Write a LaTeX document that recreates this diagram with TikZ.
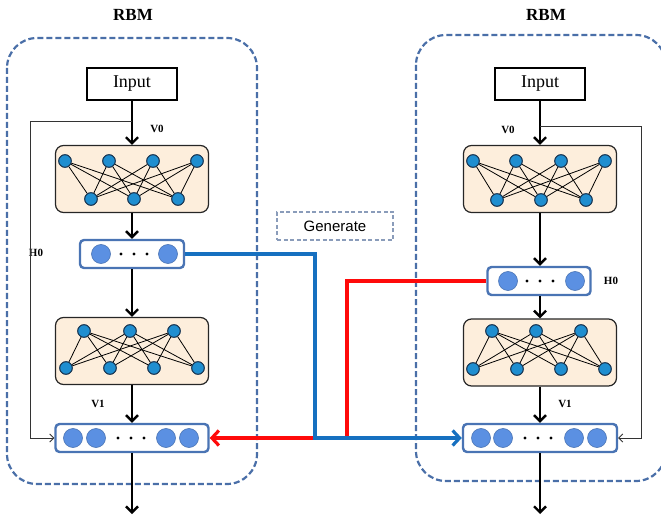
\documentclass[tikz,border=0pt]{standalone}
\usepackage{fontspec}
\setmainfont{Liberation Serif}
\newfontfamily\gensans{Liberation Sans}
\usetikzlibrary{arrows.meta}
\definecolor{panelc}{HTML}{4A6FA8}
\definecolor{layerb}{HTML}{4A74B4}
\definecolor{layerf}{HTML}{5B90E2}
\definecolor{orf}{HTML}{FDEEDC}
\definecolor{neuf}{HTML}{1F8ED0}
\definecolor{neub}{HTML}{1B3550}
\definecolor{genb}{HTML}{8A9CBA}
\definecolor{bluec}{HTML}{1670C0}
\definecolor{redc}{HTML}{FF0A0A}
\tikzset{
  panel/.style={draw=panelc, line width=2.2pt, dash pattern=on 6pt off 3pt, rounded corners=30pt},
  inbox/.style={draw=black, line width=2.4pt, fill=white, minimum width=90pt, minimum height=32pt, inner sep=0pt, font=\fontsize{18}{20}\selectfont},
  orbox/.style={draw=black!85, line width=1.2pt, fill=orf, rounded corners=8pt, minimum width=153pt, minimum height=67pt, inner sep=0pt},
  neu/.style={circle, draw=neub, line width=0.9pt, fill=neuf, minimum size=12.5pt, inner sep=0pt},
  lay/.style={draw=layerb, line width=2.4pt, fill=white, rounded corners=4pt, minimum height=28pt, inner sep=0pt},
  lc/.style={circle, draw=layerb, line width=0.6pt, fill=layerf, minimum size=19pt, inner sep=0pt},
  dot/.style={circle, fill=black, minimum size=3.4pt, inner sep=0pt},
  lbl/.style={font=\fontsize{11}{12}\selectfont\bfseries},
  ttl/.style={font=\fontsize{17}{19}\selectfont\bfseries},
  flow/.style={line width=2.5pt, -{Straight Barb[length=6pt,width=12pt,line width=2.4pt]}},
  thin/.style={line width=1pt, draw=black!80, -{Straight Barb[length=4pt,width=8pt,line width=0.9pt]}},
  big/.style={line width=3.5pt, -{Straight Barb[length=7pt,width=15pt,line width=3.2pt]}},
  wire/.style={line width=0.8pt, black}
}
\begin{document}
\begin{tikzpicture}[x=1pt,y=-1pt]
\useasboundingbox (0,0) rectangle (661,521);
% panels
\draw[panel] (7,38) rectangle (257,484);
\draw[panel] (416,35) rectangle (666,481);
\node[ttl] (t1) at (133,15) {RBM};
\node[ttl] (t2) at (546,15) {RBM};

% ---------- left column ----------
\node[inbox] (inL) at (132,84) {Input};
\node[orbox] (o1L) at (132,179) {};
\node[lay, minimum width=104pt] (h0L) at (132,254) {};
\node[orbox] (o2L) at (132,351) {};
\node[lay, minimum width=153pt] (vbL) at (132,438) {};
\coordinate (endL) at (132,514);
\node[lbl] (v0L) at (157,129) {V0};
\node[lbl] (hlL) at (36,253) {H0};
\node[lbl] (v1L) at (98,404) {V1};

% neurons box 1 left
\foreach \x [count=\i] in {65,109,153,197} \node[neu] (aL\i) at (\x,161) {};
\foreach \x [count=\i] in {91,134,178} \node[neu] (bL\i) at (\x,199) {};
\foreach \i in {1,...,4} \foreach \j in {1,2,3} \draw[wire] (aL\i) -- (bL\j);
\foreach \i in {1,...,4} \node[neu] at (aL\i) {};
\foreach \j in {1,2,3} \node[neu] at (bL\j) {};
% neurons box 2 left
\foreach \x [count=\i] in {84,130,174} \node[neu] (cL\i) at (\x,331) {};
\foreach \x [count=\i] in {66,110,154,198} \node[neu] (dL\i) at (\x,368) {};
\foreach \i in {1,2,3} \foreach \j in {1,...,4} \draw[wire] (cL\i) -- (dL\j);
\foreach \i in {1,2,3} \node[neu] at (cL\i) {};
\foreach \j in {1,...,4} \node[neu] at (dL\j) {};
% H0 left
\node[lc] (hL1) at (101,254) {};
\node[lc] (hL2) at (168,254) {};
\foreach \x [count=\i] in {121,134,147} \node[dot] (hdL\i) at (\x,254) {};
% V layer left
\foreach \x [count=\i] in {73,96,166,189} \node[lc] (vL\i) at (\x,438) {};
\foreach \x [count=\i] in {118,131,144} \node[dot] (vdL\i) at (\x,438) {};

% ---------- right column ----------
\node[inbox] (inR) at (540,84) {Input};
\node[orbox] (o1R) at (540,179) {};
\node[lay, minimum width=103pt] (h0R) at (539,281) {};
\node[orbox] (o2R) at (540,352.5) {};
\node[lay, minimum width=154pt] (vbR) at (540,438) {};
\coordinate (endR) at (540,514);
\node[lbl] (v0R) at (508,130) {V0};
\node[lbl] (hlR) at (611,281) {H0};
\node[lbl] (v1R) at (565,404) {V1};

\foreach \x [count=\i] in {473,516,561,605} \node[neu] (aR\i) at (\x,161) {};
\foreach \x [count=\i] in {497,541,586} \node[neu] (bR\i) at (\x,200) {};
\foreach \i in {1,...,4} \foreach \j in {1,2,3} \draw[wire] (aR\i) -- (bR\j);
\foreach \i in {1,...,4} \node[neu] at (aR\i) {};
\foreach \j in {1,2,3} \node[neu] at (bR\j) {};
\foreach \x [count=\i] in {492,536,581} \node[neu] (cR\i) at (\x,331) {};
\foreach \x [count=\i] in {473,517,561,605} \node[neu] (dR\i) at (\x,369) {};
\foreach \i in {1,2,3} \foreach \j in {1,...,4} \draw[wire] (cR\i) -- (dR\j);
\foreach \i in {1,2,3} \node[neu] at (cR\i) {};
\foreach \j in {1,...,4} \node[neu] at (dR\j) {};
\node[lc] (hR1) at (508,281) {};
\node[lc] (hR2) at (575,281) {};
\foreach \x [count=\i] in {527,540,553} \node[dot] (hdR\i) at (\x,281) {};
\foreach \x [count=\i] in {481,503,574,597} \node[lc] (vR\i) at (\x,438) {};
\foreach \x [count=\i] in {525,538,551} \node[dot] (vdR\i) at (\x,438) {};

% Generate box
\node[draw=genb, line width=1.8pt, dash pattern=on 4pt off 2.5pt, minimum width=116pt, minimum height=28pt, inner sep=0pt, font=\gensans\fontsize{15}{17}\selectfont] (gen) at (335,226) {Generate};

% ---------- black flow arrows ----------
\draw[flow] (inL) -- (o1L);
\draw[flow] (o1L) -- (h0L);
\draw[flow] (h0L) -- (o2L);
\draw[flow] (o2L) -- (vbL);
\draw[flow] (vbL) -- (endL);
\draw[flow] (inR) -- (o1R);
\draw[flow] (o1R) -- (h0R.north -| o1R);
\draw[flow] (h0R.south -| o2R) -- (o2R);
\draw[flow] (o2R) -- (vbR);
\draw[flow] (vbR) -- (endR);

% thin feedback lines
\coordinate (fL) at (132,122);
\coordinate (cL) at (30,438);
\draw[thin] (fL) -| (cL) -- (vbL.west);
\coordinate (fR) at (540,127);
\coordinate (cR) at (641,438);
\draw[thin] (fR) -| (cR) -- (vbR.east);

% red and blue
\coordinate (rx) at (347,438);
\coordinate (bx) at (315,438);
\draw[big, redc] (h0R.west) -| (rx) -- (vbL.east);
\draw[big, bluec] (h0L.east) -| (bx) -- (vbR.west);
\end{tikzpicture}
\end{document}
